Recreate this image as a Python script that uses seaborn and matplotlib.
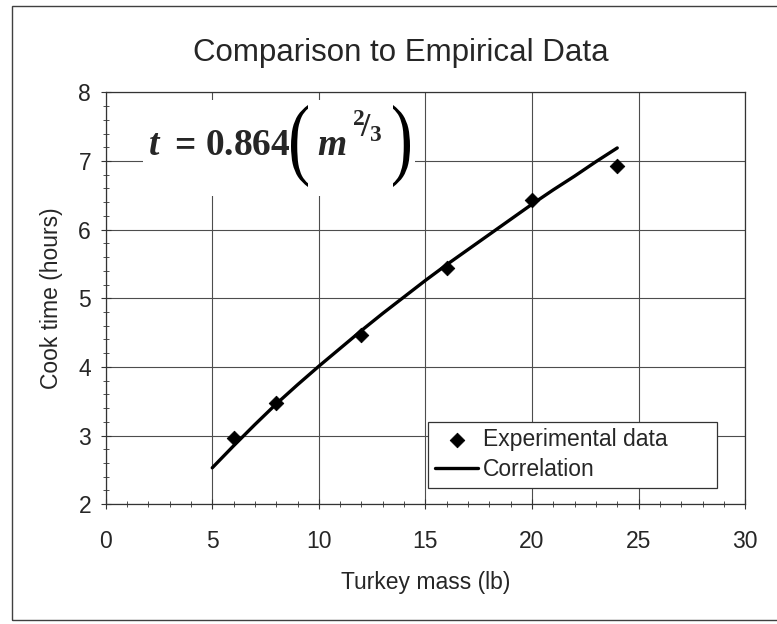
import matplotlib
matplotlib.use("Agg")
import matplotlib.pyplot as plt
import matplotlib.patches as patches
from matplotlib.font_manager import FontProperties
from matplotlib.textpath import TextPath
from matplotlib.transforms import Affine2D, IdentityTransform
from matplotlib.ticker import MultipleLocator
import pandas as pd
import seaborn as sns

# --- data ----------------------------------------------------------------
exp_mass = [6, 8, 12, 16, 20, 24]                     # lb
exp_time = [2.97, 3.47, 4.46, 5.44, 6.43, 6.92]       # hours

# correlation curve t = 0.864 m^(2/3)
curve_mass = [5, 6, 7, 8, 9, 10, 11, 12, 13, 14, 15, 16, 17, 18, 19, 20, 21, 22, 23, 24]
curve_time = [2.53, 2.85, 3.16, 3.46, 3.74, 4.01, 4.27, 4.53, 4.78, 5.02,
              5.26, 5.49, 5.71, 5.93, 6.15, 6.37, 6.58, 6.78, 6.99, 7.19]

title = "Comparison to Empirical Data"
x_label = "Turkey mass (lb)"
y_label = "Cook time (hours)"

exp_df = pd.DataFrame({"mass": exp_mass, "time": exp_time})
curve_df = pd.DataFrame({"mass": curve_mass, "time": curve_time})

W, H = 777, 624


def px(x, y):
    # pixel position (from top-left) -> figure fraction
    return x / W, 1 - y / H


def tall_glyph(fig, char, left, top, width, height):
    # draw a glyph stretched into a pixel box (thin, tall parentheses)
    path = TextPath((0, 0), char, size=1, prop=FontProperties(family="Liberation Serif"))
    ext = path.get_extents()
    tr = (Affine2D().translate(-ext.x0, -ext.y0)
          .scale(width / ext.width, height / ext.height)
          .translate(left, H - top - height))
    fig.add_artist(patches.PathPatch(path, transform=tr + IdentityTransform(),
                                     facecolor="black", edgecolor="none", zorder=3))


# --- style -------------------------------------------------------------------
sns.set_style("ticks")
plt.rcParams["font.family"] = ["Liberation Sans", "DejaVu Sans"]
plt.rcParams["mathtext.fontset"] = "custom"
plt.rcParams["mathtext.rm"] = "Liberation Serif:bold"
plt.rcParams["mathtext.it"] = "Liberation Serif:italic:bold"
plt.rcParams["mathtext.bf"] = "Liberation Serif:bold"

fig = plt.figure(figsize=(W / 100, H / 100), dpi=100)
ax = fig.add_axes([0.136, 0.192, 0.823, 0.660])

# outer chart frame
fig.patches.append(patches.Rectangle(px(12, 620), 1.0, 614 / H,
                                     transform=fig.transFigure, fill=False,
                                     edgecolor="0.25", linewidth=1.0, zorder=0))

sns.lineplot(data=curve_df, x="mass", y="time", color="black", linewidth=2.4,
             label="Correlation", ax=ax, zorder=3)
sns.scatterplot(data=exp_df, x="mass", y="time", marker="D", s=55, color="black",
                edgecolor="black", label="Experimental data", ax=ax, zorder=4)

# axes
ax.set_xlim(0, 30)
ax.set_ylim(2, 8)
ax.xaxis.set_major_locator(MultipleLocator(5))
ax.xaxis.set_minor_locator(MultipleLocator(1))
ax.yaxis.set_major_locator(MultipleLocator(1))
ax.yaxis.set_minor_locator(MultipleLocator(0.2))
ax.grid(True, which="major", color="0.3", linewidth=0.8)
ax.tick_params(axis="both", which="major", direction="inout", length=7, width=0.8,
               labelsize=16.5, color="0.2")
ax.tick_params(axis="both", which="minor", direction="inout", length=5, width=0.7,
               color="0.3")
ax.tick_params(axis="x", which="major", pad=15)
ax.tick_params(axis="y", which="major", pad=7)
for side in ax.spines.values():
    side.set_color("0.2")
    side.set_linewidth(0.9)

ax.set_xlabel(x_label, fontsize=16.5, labelpad=13)
ax.set_ylabel(y_label, fontsize=16.5, labelpad=11)
fig.text(*px(401, 53), title, ha="center", va="center", fontsize=22.5)

# equation t = 0.864 (m^2/3), built from pieces on a white patch
x0, y0 = px(143, 196)
fig.add_artist(patches.Rectangle((x0, y0), 272 / W, 96 / H, transform=fig.transFigure,
                                 facecolor="white", edgecolor="none", zorder=2))
serif = ["Liberation Serif", "DejaVu Serif"]
fig.text(*px(148, 155), r"$t$", fontsize=27, va="baseline", ha="left", zorder=3)
fig.text(*px(174, 155), "=", fontsize=27, family=serif, weight="bold",
         va="baseline", ha="left", zorder=3)
fig.text(*px(205, 155), r"$0.864$", fontsize=27, va="baseline", ha="left", zorder=3)
tall_glyph(fig, "(", 291, 105, 17, 82)
fig.text(*px(317, 155), r"$m$", fontsize=27, va="baseline", ha="left", zorder=3)
fig.text(*px(352, 137), r"${}^{2}\!/{}_{3}$", fontsize=24, va="baseline",
         ha="left", zorder=3)
tall_glyph(fig, ")", 393, 105, 17, 82)

# legend: diamond first, then line
handles, labels = ax.get_legend_handles_labels()
order = [labels.index("Experimental data"), labels.index("Correlation")]
leg = ax.legend([handles[i] for i in order], [labels[i] for i in order],
                loc="lower left", bbox_to_anchor=(0.504, 0.039, 0.452, 0.17),
                mode="expand", fontsize=16.5, frameon=True, fancybox=False,
                framealpha=1, edgecolor="0.2", borderpad=0.3, labelspacing=0.3,
                handlelength=1.9, handletextpad=0.2, borderaxespad=0)
leg.get_frame().set_linewidth(0.9)

fig.savefig("out.png", dpi=100)
